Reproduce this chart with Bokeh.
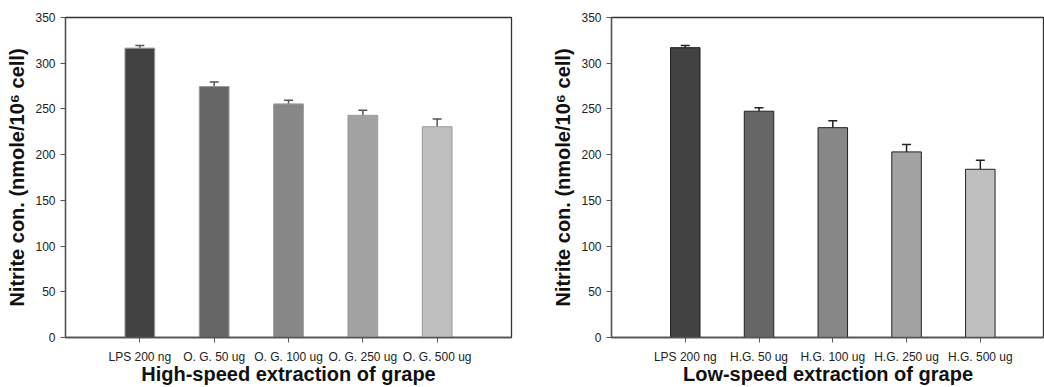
from bokeh.plotting import figure
from bokeh.layouts import row
from bokeh.models import ColumnDataSource, Range1d, FixedTicker, Whisker, TeeHead
from bokeh.embed import file_html
from bokeh.resources import INLINE

# ---- data ----
cats_high = ["LPS 200 ng", "O. G. 50 ug", "O. G. 100 ug", "O. G. 250 ug", "O. G. 500 ug"]
vals_high = [316.5, 274.5, 255.5, 243.0, 230.5]
err_high = [3.0, 5.0, 4.0, 5.5, 8.5]

cats_low = ["LPS 200 ng", "H.G. 50 ug", "H.G. 100 ug", "H.G. 250 ug", "H.G. 500 ug"]
vals_low = [317.0, 247.5, 229.5, 203.0, 184.0]
err_low = [2.5, 3.7, 7.7, 8.0, 9.8]

bar_colors = ["#424242", "#666666", "#878787", "#a3a3a3", "#bfbfbf"]
y_ticks = [0, 50, 100, 150, 200, 250, 300, 350]

FONT = "Liberation Sans"


def make_panel(cats, vals, errs, xlabel, x_end, top_border, left_border,
               right_border, bar_line, err_color):
    xs = [i + 1 for i in range(len(cats))]
    src = ColumnDataSource(dict(
        x=xs, top=vals, upper=[v + e for v, e in zip(vals, errs)], color=bar_colors))
    p = figure(width=522, height=387, output_backend="svg", toolbar_location=None,
               x_range=Range1d(0, x_end), y_range=Range1d(0, 350),
               min_border_left=left_border, min_border_right=right_border,
               min_border_top=top_border, min_border_bottom=50)
    p.vbar(x="x", top="top", width=0.4, fill_color="color", line_color=bar_line,
           line_width=1, source=src)
    w = Whisker(base="x", lower="top", upper="upper", source=src,
                line_color=err_color, line_width=1.5,
                upper_head=TeeHead(size=9, line_color=err_color, line_width=1.5),
                lower_head=None)
    p.add_layout(w)

    p.xgrid.visible = False
    p.ygrid.visible = False
    p.outline_line_color = "#333333"
    p.outline_line_width = 1.3

    p.xaxis.ticker = FixedTicker(ticks=xs)
    p.xaxis.major_label_overrides = {x: c for x, c in zip(xs, cats)}
    p.yaxis.ticker = FixedTicker(ticks=y_ticks)
    for ax in (p.xaxis, p.yaxis):
        ax.minor_tick_line_color = None
        ax.axis_line_color = "#555555"
        ax.axis_line_width = 1.3
        ax.major_tick_line_color = "#555555"
        ax.major_tick_out = 5
        ax.major_tick_in = 0
        ax.major_label_text_font = FONT
        ax.major_label_text_font_size = "12px"
        ax.major_label_text_color = "#222222"
        ax.axis_label_text_font = FONT
        ax.axis_label_text_font_style = "bold"
        ax.axis_label_text_font_size = "20px"
        ax.axis_label_text_color = "#111111"
    p.xaxis.axis_label = xlabel
    p.xaxis.major_label_standoff = 7
    p.xaxis.axis_label_standoff = -4
    p.yaxis.axis_label = "Nitrite con. (nmole/10\u2076 cell)"
    p.yaxis.major_label_standoff = 5
    p.yaxis.axis_label_standoff = 4
    p.background_fill_color = "white"
    p.border_fill_color = "white"
    return p


p1 = make_panel(cats_high, vals_high, err_high, "High-speed extraction of grape",
                6.0, 15, 65, 11, "#9a9a9a", "#555555")
p2 = make_panel(cats_low, vals_low, err_low, "Low-speed extraction of grape",
                5.87, 17, 89, 0, "#222222", "#222222")

layout = row(p1, p2, spacing=0)
open("out.html", "w").write(file_html(layout, INLINE))
